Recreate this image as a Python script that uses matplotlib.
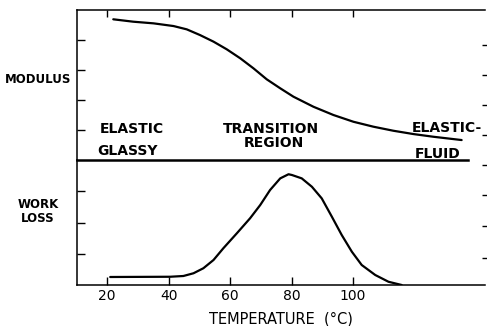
import matplotlib
matplotlib.use('Agg')
import matplotlib.pyplot as plt

# modulus curve (arbitrary units, 0..1 over upper panel)
mod_temp = [22.0, 28.5, 35.1, 41.6, 45.9, 50.2, 54.6, 58.9, 63.3, 67.6, 71.9, 76.3,
            80.6, 87.1, 93.6, 100.1, 106.6, 113.1, 119.6, 126.1, 135.3]
mod_val = [0.938, 0.922, 0.911, 0.893, 0.871, 0.833, 0.789, 0.738, 0.678, 0.611, 0.538, 0.478,
           0.422, 0.355, 0.300, 0.255, 0.222, 0.195, 0.173, 0.155, 0.133]

# work loss curve (arbitrary units, 0..1 over lower panel)
loss_temp = [21.0, 40.5, 44.8, 48.1, 51.3, 54.6, 57.8, 62.2, 66.5, 69.8, 73.0, 76.3, 79.0,
             80.1, 83.3, 86.6, 89.8, 93.1, 96.3, 99.6, 102.8, 107.2, 111.5, 115.8]
loss_val = [0.064, 0.066, 0.072, 0.094, 0.134, 0.200, 0.294, 0.414, 0.534, 0.640, 0.760, 0.853, 0.886,
            0.880, 0.853, 0.786, 0.693, 0.546, 0.400, 0.266, 0.160, 0.080, 0.026, 0.0]

temp_ticks = [20, 40, 60, 80, 100]
mod_left_ticks = [0.2, 0.4, 0.6, 0.8]
mod_right_ticks = [0.167, 0.367, 0.567, 0.767]
loss_left_ticks = [0.25, 0.5, 0.75]
loss_right_ticks = [0.22, 0.47, 0.72, 0.96]

W, H = 487, 326
xmin, xmax = 10.2, 142.9

fig = plt.figure(figsize=(W / 100, H / 100), dpi=100)
plt.rcParams['font.family'] = 'DejaVu Sans'

left = 77 / W
width = 485 / W - left
ax_top = fig.add_axes([left, 1 - 160 / H, width, 150 / H])
ax_bot = fig.add_axes([left, 1 - 285 / H, width, 125 / H])

lw = 1.6
for ax in (ax_top, ax_bot):
    ax.set_xlim(xmin, xmax)
    ax.set_ylim(0, 1)
    ax.spines['right'].set_visible(False)
    for s in ('left', 'top', 'bottom'):
        ax.spines[s].set_linewidth(1.1)

# upper panel
ax_top.plot(mod_temp, mod_val, color='black', lw=lw, solid_joinstyle='round', solid_capstyle='round')
ax_top.spines['bottom'].set_visible(False)
ax_top.xaxis.set_ticks_position('top')
ax_top.set_xticks(temp_ticks)
ax_top.set_xticklabels([])
ax_top.tick_params(axis='x', direction='in', length=5, width=1)
ax_top.set_yticks(mod_left_ticks)
ax_top.set_yticklabels([])
ax_top.tick_params(axis='y', direction='in', length=6, width=1)

# lower panel
ax_bot.plot(loss_temp, loss_val, color='black', lw=lw, solid_joinstyle='round', solid_capstyle='round')
ax_bot.spines['top'].set_visible(False)
ax_bot.set_xticks(temp_ticks)
ax_bot.tick_params(axis='x', direction='in', length=6, width=1, pad=3, labelsize=10)
ax_bot.set_yticks(loss_left_ticks)
ax_bot.set_yticklabels([])
ax_bot.tick_params(axis='y', direction='in', length=6, width=1)
ax_bot.axhline(1.0, xmin=0, xmax=(137.4 - xmin) / (xmax - xmin), color='black', lw=1.8, clip_on=False)

# loose ticks on the right side
for ax, ticks in ((ax_top, mod_right_ticks), (ax_bot, loss_right_ticks)):
    tw = ax.twinx()
    tw.set_ylim(0, 1)
    for s in tw.spines.values():
        s.set_visible(False)
    tw.set_yticks(ticks)
    tw.set_yticklabels([])
    tw.tick_params(axis='y', direction='inout', length=4, width=1)

# region labels
lab = dict(fontsize=10, color='black', ha='center', va='baseline', weight='bold')
ax_top.text(28.1, 0.18, 'ELASTIC', **lab)
ax_top.text(26.7, 0.033, 'GLASSY', **lab)
ax_top.text(73.3, 0.18, 'TRANSITION', **lab)
ax_top.text(74.3, 0.087, 'REGION', **lab)
ax_top.text(130.6, 0.187, 'ELASTIC-', **lab)
ax_top.text(127.6, 0.013, 'FLUID', **lab)

side = dict(fontsize=8.5, color='black', ha='center', va='baseline', weight='bold')
fig.text(38 / W, 1 - 83 / H, 'MODULUS', **side)
fig.text(38 / W, 1 - 208 / H, 'WORK', **side)
fig.text(38 / W, 1 - 222 / H, 'LOSS', **side)

fig.text(281 / W, 1 - 323 / H, 'TEMPERATURE  (°C)', fontsize=10.5, ha='center', va='baseline')

fig.savefig('out.png', dpi=100, facecolor='white')
